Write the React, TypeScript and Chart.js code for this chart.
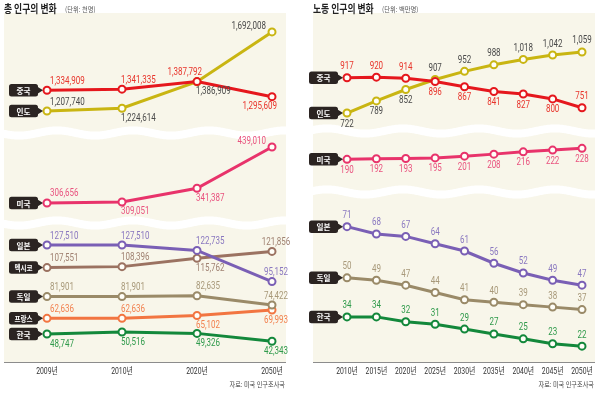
import React, { useEffect, useRef } from 'react';
import { Chart, registerables } from 'chart.js';

Chart.register(...registerables);

// ---------- DATA ----------
const totalYears = ['2009년', '2010년', '2020년', '2050년'];
const totalChina = [1334909, 1341335, 1387792, 1295609];
const totalIndia = [1207740, 1224614, 1386909, 1692008];
const totalUS = [306656, 309051, 341387, 439010];
const totalJapan = [127510, 127510, 122735, 95152];
const totalMexico = [107551, 108396, 115762, 121856];
const totalGermany = [81901, 81901, 82635, 74422];
const totalFrance = [62636, 62636, 65102, 69993];
const totalKorea = [48747, 50516, 49326, 42343];

const laborYears = ['2010년', '2015년', '2020년', '2025년', '2030년', '2035년', '2040년', '2045년', '2050년'];
const laborChina = [917, 920, 914, 896, 867, 841, 827, 800, 751];
const laborIndia = [722, 789, 852, 907, 952, 988, 1018, 1042, 1059];
const laborUS = [190, 192, 193, 195, 201, 208, 216, 222, 228];
const laborJapan = [71, 68, 67, 64, 61, 56, 52, 49, 47];
const laborGermany = [50, 49, 47, 44, 41, 40, 39, 38, 37];
const laborKorea = [34, 34, 32, 31, 29, 27, 25, 23, 22];

// ---------- STYLE ----------
const C = {
  china: '#e5171d', chinaL: '#e8352c',
  india: '#c9b512', indiaL: '#4a4a4a',
  us: '#e8336b', usL: '#e9537f',
  japan: '#7a5fb5', japanL: '#8a78c0',
  mexico: '#9b7261', mexicoL: '#a08272',
  germany: '#9a8a68', germanyL: '#a8997a',
  france: '#f27541', franceL: '#f2814f',
  korea: '#13883b', koreaL: '#2f9a4b',
};

const FONT_NUM = '"Roboto", "Noto Sans CJK KR", sans-serif';
const FONT_KR = '"Noto Sans CJK KR", sans-serif';

type Series = {
  name: string; values: number[]; color: string; labelColor: string;
  axis: 'y1' | 'y2' | 'y3'; place: string[];
};

type PanelCfg = {
  kind: 'total' | 'labor';
  title: string; unit: string; titleX: number; unitX: number;
  labels: string[];
  series: Series[];
  padding: { left: number; right: number; top: number; bottom: number };
  bgL: number; bgR: number;
  weights: number[];
  ranges: [number, number][];
  above: number; below: number;
  wavePhase: number;
};

const totalCfg: PanelCfg = {
  kind: 'total',
  title: '총 인구의 변화', unit: '(단위: 천명)', titleX: 4, unitX: 65,
  labels: totalYears,
  series: [
    { name: '중국', values: totalChina, color: C.china, labelColor: C.chinaL, axis: 'y1', place: ['a', 'a', 'aR', 'bR'] },
    { name: '인도', values: totalIndia, color: C.india, labelColor: C.indiaL, axis: 'y1', place: ['a', 'b', 'b', 'l'] },
    { name: '미국', values: totalUS, color: C.us, labelColor: C.usL, axis: 'y2', place: ['a', 'b', 'b', 'l'] },
    { name: '일본', values: totalJapan, color: C.japan, labelColor: C.japanL, axis: 'y3', place: ['a', 'a', 'a', 'a'] },
    { name: '멕시코', values: totalMexico, color: C.mexico, labelColor: C.mexicoL, axis: 'y3', place: ['a', 'a', 'b', 'a'] },
    { name: '독일', values: totalGermany, color: C.germany, labelColor: C.germanyL, axis: 'y3', place: ['a', 'a', 'a', 'a'] },
    { name: '프랑스', values: totalFrance, color: C.france, labelColor: C.franceL, axis: 'y3', place: ['a', 'a', 'b', 'b'] },
    { name: '한국', values: totalKorea, color: C.korea, labelColor: C.koreaL, axis: 'y3', place: ['b', 'b', 'b', 'b'] },
  ],
  padding: { left: 47, right: 28, top: 13, bottom: 31 },
  bgL: 43, bgR: 14,
  weights: [120, 90, 139],
  ranges: [[1073000, 1808000], [259400, 472000], [24000, 147000]],
  above: 9, below: 10,
  wavePhase: 0,
};

const laborCfg: PanelCfg = {
  kind: 'labor',
  title: '노동 인구의 변화', unit: '(단위: 백만명)', titleX: 13, unitX: 82,
  labels: laborYears,
  series: [
    { name: '중국', values: laborChina, color: C.china, labelColor: C.chinaL, axis: 'y1', place: ['a', 'a', 'a', 'b', 'b', 'b', 'b', 'b', 'a'] },
    { name: '인도', values: laborIndia, color: C.india, labelColor: C.indiaL, axis: 'y1', place: ['b', 'b', 'b', 'a', 'a', 'a', 'a', 'a', 'a'] },
    { name: '미국', values: laborUS, color: C.us, labelColor: C.usL, axis: 'y2', place: ['b', 'b', 'b', 'b', 'b', 'b', 'b', 'b', 'b'] },
    { name: '일본', values: laborJapan, color: C.japan, labelColor: C.japanL, axis: 'y3', place: ['a', 'a', 'a', 'a', 'a', 'a', 'a', 'a', 'a'] },
    { name: '독일', values: laborGermany, color: C.germany, labelColor: C.germanyL, axis: 'y3', place: ['a', 'a', 'a', 'a', 'a', 'a', 'a', 'a', 'a'] },
    { name: '한국', values: laborKorea, color: C.korea, labelColor: C.koreaL, axis: 'y3', place: ['a', 'a', 'a', 'a', 'a', 'a', 'a', 'a', 'a'] },
  ],
  padding: { left: 47, right: 18, top: 13, bottom: 31 },
  bgL: 34, bgR: 13,
  weights: [118, 61, 170],
  ranges: [[623, 1274], [77, 288], [15.5, 85.2]],
  above: 11, below: 11,
  wavePhase: 30,
};

function drawText(
  ctx: CanvasRenderingContext2D, text: string, x: number, y: number,
  font: string, color: string, align: CanvasTextAlign, sx: number
) {
  ctx.save();
  ctx.translate(x, y);
  ctx.scale(sx, 1);
  ctx.font = font;
  ctx.fillStyle = color;
  ctx.textAlign = align;
  ctx.textBaseline = 'middle';
  ctx.fillText(text, 0, 0);
  ctx.restore();
}

function makeDecor(cfg: PanelCfg) {
  return {
    id: 'decor',
    beforeDatasetsDraw(chart: any) {
      const { ctx, chartArea } = chart;
      const left = chartArea.left - cfg.bgL;
      const right = chartArea.right + cfg.bgR;
      ctx.save();
      ctx.fillStyle = '#f8f6ea';
      ctx.fillRect(left, chartArea.top, right - left, chartArea.bottom - chartArea.top);
      // wavy breaks between stacked axes
      for (const id of ['y1', 'y2']) {
        const yb = chart.scales[id].bottom;
        ctx.beginPath();
        for (let x = left - 4; x <= right + 4; x += 1) {
          const yy = yb + Math.sin(((x + cfg.wavePhase) / 76) * 2 * Math.PI) * 2.6;
          if (x === left - 4) ctx.moveTo(x, yy); else ctx.lineTo(x, yy);
        }
        ctx.strokeStyle = '#ffffff';
        ctx.lineWidth = 8;
        ctx.stroke();
      }
      ctx.strokeStyle = '#8c8c8c';
      ctx.lineWidth = 1;
      ctx.beginPath();
      ctx.moveTo(left, chartArea.bottom + 0.5);
      ctx.lineTo(right, chartArea.bottom + 0.5);
      ctx.stroke();
      ctx.restore();
    },
    afterDraw(chart: any) {
      const { ctx, chartArea } = chart;
      const right = chartArea.right + cfg.bgR;
      // titles
      drawText(ctx, cfg.title, cfg.titleX, 9, `bold 11px ${FONT_KR}`, '#222222', 'left', 0.8);
      drawText(ctx, cfg.unit, cfg.unitX, 9.5, `7px ${FONT_KR}`, '#555555', 'left', 0.9);
      // x tick labels from the category scale
      const xs = chart.scales.x;
      cfg.labels.forEach((_, i) => {
        const x = xs.getPixelForValue(i);
        drawText(ctx, xs.getLabelForValue(i), x, chartArea.bottom + 9.5, `9px ${FONT_NUM}`, '#333333', 'center', 0.76);
      });
      // source
      drawText(ctx, '자료: 미국 인구조사국', right - 1, 384, `7px ${FONT_KR}`, '#444444', 'right', 0.88);

      cfg.series.forEach((s, di) => {
        const meta = chart.getDatasetMeta(di);
        const n = meta.data.length;
        // value labels
        meta.data.forEach((el: any, j: number) => {
          const code = s.place[j] || 'a';
          const v = code[0];
          const x = el.x, y = el.y;
          let ty = v === 'a' ? y - cfg.above : v === 'b' ? y + cfg.below : y - 5;
          let tx = x;
          let align: CanvasTextAlign = 'center';
          if (v === 'l') { align = 'right'; tx = x - 6; }
          else if (code[1] === 'R') { align = 'right'; tx = x + 5; }
          else if (cfg.kind === 'total') {
            if (j === 0) { align = 'left'; tx = x + 3; }
            else if (j === n - 1) { align = 'center'; tx = x + 4; }
            else { align = 'left'; tx = x - 1; }
          }
          drawText(ctx, s.values[j].toLocaleString('en-US'), tx, ty, `10px ${FONT_NUM}`, s.labelColor, align, 0.8);
        });
        // name tag at first point
        const p0: any = meta.data[0];
        const tip = p0.x - 4;
        const bR = p0.x - 9;
        const bL = p0.x - 38;
        const h = 12.5;
        const top = p0.y - h / 2;
        ctx.save();
        ctx.fillStyle = '#2b2422';
        ctx.beginPath();
        ctx.roundRect(bL, top, bR - bL, h, 2.5);
        ctx.fill();
        ctx.beginPath();
        ctx.moveTo(bR - 0.5, p0.y - 3.5);
        ctx.lineTo(tip, p0.y);
        ctx.lineTo(bR - 0.5, p0.y + 3.5);
        ctx.closePath();
        ctx.fill();
        ctx.restore();
        drawText(ctx, s.name, (bL + bR) / 2, p0.y + 0.5, `bold 8px ${FONT_KR}`, '#ffffff', 'center', s.name.length > 2 ? 0.82 : 0.95);
      });
    },
  };
}

function Panel({ cfg, left }: { cfg: PanelCfg; left: number }) {
  const ref = useRef<HTMLCanvasElement>(null);
  useEffect(() => {
    const axisIds = ['y1', 'y2', 'y3'];
    const scales: any = { x: { type: 'category', display: false, offset: false } };
    axisIds.forEach((id, k) => {
      scales[id] = {
        type: 'linear', position: 'left', display: false,
        stack: 'panel', stackWeight: cfg.weights[k], weight: 3 - k,
        min: cfg.ranges[k][0], max: cfg.ranges[k][1],
      };
    });
    const chart = new Chart(ref.current as HTMLCanvasElement, {
      type: 'line',
      data: {
        labels: cfg.labels,
        datasets: cfg.series.map((s) => ({
          label: s.name,
          data: s.values,
          yAxisID: s.axis,
          borderColor: s.color,
          borderWidth: 3,
          pointRadius: 3.5,
          pointBorderWidth: 2,
          pointBorderColor: s.color,
          pointBackgroundColor: '#fffef8',
          backgroundColor: '#fffef8',
          tension: 0,
          clip: false as any,
          fill: false,
        })),
      },
      options: {
        responsive: false,
        maintainAspectRatio: false,
        animation: false,
        events: [],
        layout: { padding: cfg.padding },
        plugins: { legend: { display: false }, tooltip: { enabled: false } },
        scales,
      },
      plugins: [makeDecor(cfg)],
    });
    return () => chart.destroy();
  }, []);
  return (
    <canvas
      ref={ref}
      width={300}
      height={393}
      style={{ position: 'absolute', left, top: 0, width: 300, height: 393 }}
    />
  );
}

export default function App() {
  return (
    <div style={{ position: 'absolute', left: 0, top: 0, width: 600, height: 393, background: '#ffffff', overflow: 'hidden' }}>
      <Panel cfg={totalCfg} left={0} />
      <Panel cfg={laborCfg} left={300} />
    </div>
  );
}
